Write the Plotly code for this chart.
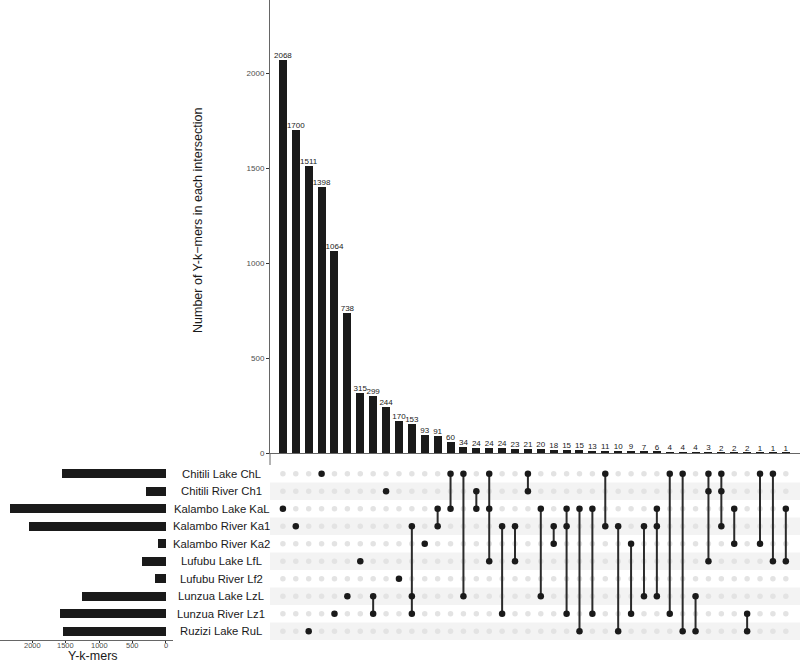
import plotly.graph_objects as go

set_names = ["Chitili Lake ChL", "Chitili River Ch1", "Kalambo Lake KaL", "Kalambo River Ka1",
             "Kalambo River Ka2", "Lufubu Lake LfL", "Lufubu River Lf2", "Lunzua Lake LzL",
             "Lunzua River Lz1", "Ruzizi Lake RuL"]
set_codes = ["ChL", "Ch1", "KaL", "Ka1", "Ka2", "LfL", "Lf2", "LzL", "Lz1", "RuL"]

intersection_sizes = [2068, 1700, 1511, 1398, 1064, 738, 315, 299, 244, 170, 153, 93, 91, 60, 34,
                      24, 24, 24, 23, 21, 20, 18, 15, 15, 13, 11, 10, 9, 7, 6, 4, 4, 4, 3, 2, 2, 2, 1, 1, 1]
intersection_members = [
    ["KaL"], ["Ka1"], ["RuL"], ["ChL"], ["Lz1"], ["LzL"], ["LfL"], ["LzL", "Lz1"], ["Ch1"], ["Lf2"],
    ["Ka1", "LzL", "Lz1"], ["Ka2"], ["KaL", "Ka1"], ["ChL", "KaL"], ["ChL", "LzL"], ["Ch1", "KaL"],
    ["ChL", "KaL", "LfL"], ["Ka1", "Lz1"], ["Ka1", "LfL"], ["ChL", "Ch1"], ["KaL", "LzL"],
    ["Ka1", "Ka2"], ["KaL", "Ka1", "Lz1"], ["KaL", "RuL"], ["KaL", "Lz1"], ["ChL", "Ka1"],
    ["Ka1", "RuL"], ["Ka2", "Lz1"], ["Ka1", "LzL"], ["KaL", "Ka1", "LzL"], ["ChL", "Lz1"],
    ["ChL", "RuL"], ["LzL", "RuL"], ["ChL", "Ch1", "LfL"], ["ChL", "Ch1", "Ka1"], ["KaL", "Ka2"],
    ["Lz1", "RuL"], ["ChL", "Ka2"], ["ChL", "LfL"], ["KaL", "LfL"]]

set_sizes = [sum(s for s, m in zip(intersection_sizes, intersection_members) if c in m) for c in set_codes]

left_ticks = [2000, 1500, 1000, 500, 0]
top_ticks = [0, 500, 1000, 1500, 2000]

ncol = len(intersection_sizes)
cols = list(range(ncol))
rows = list(range(len(set_codes)))

FONT = "Liberation Sans, Arial, Helvetica, sans-serif"
H = 662.0
def py(px):
    return 1 - px / H

fig = go.Figure()

# top intersection bars
fig.add_trace(go.Bar(x=cols, y=intersection_sizes, marker=dict(color="#1a1a1a", line=dict(width=0)),
                     width=0.62, xaxis="x", yaxis="y", showlegend=False, hoverinfo="skip"))
fig.add_trace(go.Scatter(x=cols, y=intersection_sizes, mode="text",
                         text=[str(v) for v in intersection_sizes], textposition="top center",
                         textfont=dict(size=8, color="#1a1a1a", family=FONT), cliponaxis=False,
                         xaxis="x", yaxis="y", showlegend=False, hoverinfo="skip"))

# matrix background dots
bx, by = [], []
for c in cols:
    for r in rows:
        bx.append(c); by.append(r)
fig.add_trace(go.Scatter(x=bx, y=by, mode="markers", marker=dict(size=5.5, color="#e3e3e3"),
                         xaxis="x2", yaxis="y2", showlegend=False, hoverinfo="skip"))

# connecting lines
lx, ly = [], []
for c, mem in zip(cols, intersection_members):
    idx = [set_codes.index(m) for m in mem]
    if len(idx) > 1:
        lx += [c, c, None]; ly += [min(idx), max(idx), None]
fig.add_trace(go.Scatter(x=lx, y=ly, mode="lines", line=dict(color="#2b2b2b", width=2),
                         xaxis="x2", yaxis="y2", showlegend=False, hoverinfo="skip"))

ax_, ay_ = [], []
for c, mem in zip(cols, intersection_members):
    for m in mem:
        ax_.append(c); ay_.append(set_codes.index(m))
fig.add_trace(go.Scatter(x=ax_, y=ay_, mode="markers", marker=dict(size=6.5, color="#1a1a1a"),
                         xaxis="x2", yaxis="y2", showlegend=False, hoverinfo="skip"))

# set size bars
fig.add_trace(go.Bar(x=set_sizes, y=rows, orientation="h", width=0.5,
                     marker=dict(color="#1a1a1a", line=dict(width=0)),
                     xaxis="x3", yaxis="y3", showlegend=False, hoverinfo="skip"))

# stripes
shapes = []
for r in rows:
    if r % 2 == 1:
        shapes.append(dict(type="rect", xref="paper", yref="y2", x0=270 / 800, x1=1.0,
                           y0=r - 0.5, y1=r + 0.5, fillcolor="#f3f3f3", line=dict(width=0), layer="below"))
# y axis line extension down to matrix top
shapes.append(dict(type="line", xref="paper", yref="paper", x0=270 / 800, x1=270 / 800,
                   y0=py(465), y1=py(453), line=dict(color="#666666", width=1)))

annotations = []
for r, name in zip(rows, set_names):
    annotations.append(dict(x=221 / 800, y=r, xref="paper", yref="y2", text=name, showarrow=False,
                            xanchor="center", yanchor="middle",
                            font=dict(size=11.3, color="#1a1a1a", family=FONT)))
annotations.append(dict(x=198 / 800, y=py(220), xref="paper", yref="paper",
                        text="Number of Y-k\u2212mers in each intersection", textangle=-90,
                        showarrow=False, xanchor="center", yanchor="middle",
                        font=dict(size=12.5, color="#1a1a1a", family=FONT)))
annotations.append(dict(x=93 / 800, y=py(656), xref="paper", yref="paper", text="Y-k-mers",
                        showarrow=False, xanchor="center", yanchor="middle",
                        font=dict(size=12.5, color="#1a1a1a", family=FONT)))
for t in left_ticks:
    annotations.append(dict(x=t, y=py(645.5), xref="x3", yref="paper", text=str(t), showarrow=False,
                            xanchor="center", yanchor="middle", borderpad=0,
                            font=dict(size=7.5, color="#4d4d4d", family=FONT)))

mat_bot = py(640)
mat_top = py(465)

fig.update_layout(
    width=800, height=662, margin=dict(l=0, r=0, t=0, b=0, autoexpand=False),
    paper_bgcolor="white", plot_bgcolor="rgba(0,0,0,0)", bargap=0,
    font=dict(family=FONT),
    xaxis=dict(domain=[270 / 800, 1], range=[-1.0, 40.1], showticklabels=False, ticks="",
               showgrid=False, zeroline=False, showline=True, linecolor="#666666", linewidth=1,
               anchor="y", automargin=False),
    yaxis=dict(domain=[py(453), 1], range=[0, 2385], tickvals=top_ticks, ticks="outside", ticklen=3,
               tickcolor="#333333", tickfont=dict(size=8, color="#4d4d4d", family=FONT),
               showgrid=False, zeroline=False, showline=True, linecolor="#666666", linewidth=1,
               anchor="x", automargin=False),
    xaxis2=dict(domain=[270 / 800, 1], range=[-1.0, 40.1], visible=False, anchor="y2", automargin=False),
    yaxis2=dict(domain=[mat_bot, mat_top], range=[9.5, -0.5], visible=False, anchor="x2", automargin=False),
    xaxis3=dict(domain=[0, 173 / 800], range=[2487, -105], tickvals=left_ticks, ticks="outside",
                ticklen=2, tickcolor="#333333", showticklabels=False,
                showgrid=False, zeroline=False, showline=True, linecolor="#666666", linewidth=1,
                anchor="y3", automargin=False),
    yaxis3=dict(domain=[mat_bot, mat_top], range=[9.5, -0.5], visible=False, anchor="x3", automargin=False),
    shapes=shapes, annotations=annotations,
)

fig.write_html("out.html", config={"displayModeBar": False},
               post_script="document.body.style.margin='0';document.body.style.overflow='hidden';")
